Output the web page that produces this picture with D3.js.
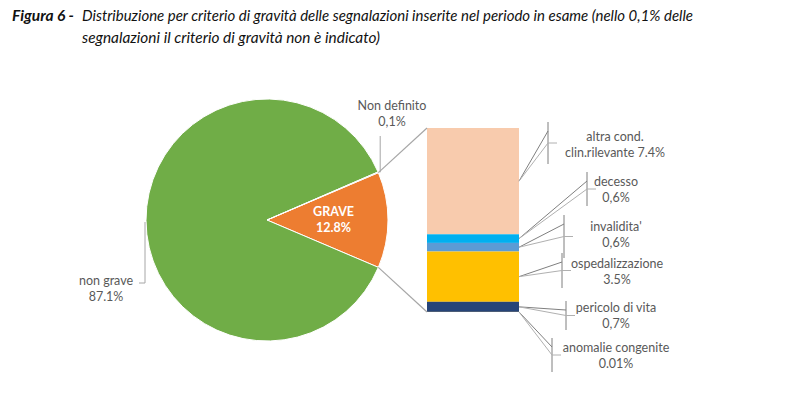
<!DOCTYPE html>
<html>
<head>
<meta charset="utf-8">
<script src="https://cdn.jsdelivr.net/npm/d3@7"></script>
<style>
  body { margin: 0; background: #fff; }
  svg { display: block; }
  text { font-family: Lato, "Open Sans", sans-serif; }
  .lbl { font-size: 12.5px; fill: #595959; }
  .title { font-size: 15px; font-style: italic; fill: #111; }
</style>
</head>
<body>
<svg id="chart" width="800" height="399"></svg>
<script>
const pieLabels = ['GRAVE', 'non grave', 'Non definito']
const pieValues = [12.8, 87.1, 0.1]
const pieText = ['12.8%', '87.1%', '0,1%']
const pieColors = ['#ED7D31', '#70AD47', '#A5A5A5']

const barLabels = [['altra cond.', 'clin.rilevante 7.4%'], ['decesso', '0,6%'], ["invalidita'", '0,6%'],
  ['ospedalizzazione', '3.5%'], ['pericolo di vita', '0,7%'], ['anomalie congenite', '0.01%']]
const barValues = [7.4, 0.6, 0.6, 3.5, 0.7, 0.01]
const barColors = ['#F8CBAD', '#00B0F0', '#5B9BD5', '#FFC000', '#264478', '#7F6000']

const svg = d3.select('#chart')

// title
svg.append('text').attr('class', 'title').attr('x', 12).attr('y', 21)
  .attr('font-weight', 'bold').attr('textLength', 62).attr('lengthAdjust', 'spacingAndGlyphs')
  .text('Figura 6 -')
svg.append('text').attr('class', 'title').attr('x', 82).attr('y', 21)
  .attr('textLength', 611).attr('lengthAdjust', 'spacingAndGlyphs')
  .text('Distribuzione per criterio di gravità delle segnalazioni inserite nel periodo in esame (nello 0,1% delle')
svg.append('text').attr('class', 'title').attr('x', 82).attr('y', 43)
  .attr('textLength', 298).attr('lengthAdjust', 'spacingAndGlyphs')
  .text('segnalazioni il criterio di gravità non è indicato)')

// pie
const cx = 267, cy = 220, r = 121
const half = Math.PI * pieValues[0] / d3.sum(pieValues)
const pie = d3.pie().sort(null).startAngle(Math.PI / 2 - half).endAngle(Math.PI * 2.5 - half)
const arcs = pie(pieValues)
const arc = d3.arc().innerRadius(0).outerRadius(r)
const pt = (a, rad) => [cx + rad * Math.sin(a), cy - rad * Math.cos(a)]

const pieG = svg.append('g').attr('transform', `translate(${cx},${cy})`)
pieG.selectAll('path').data(arcs).enter().append('path')
  .attr('d', arc)
  .attr('fill', (d, i) => pieColors[i])
  .attr('stroke', '#fff')
  .attr('stroke-width', 1)

const c = d3.arc().innerRadius(0).outerRadius(r * 1.1).centroid(arcs[0])
pieG.append('text').attr('x', c[0]).attr('y', c[1] - 4).attr('text-anchor', 'middle')
  .attr('fill', '#fff').attr('font-weight', 'bold').attr('font-size', 12.5).text(pieLabels[0])
pieG.append('text').attr('x', c[0]).attr('y', c[1] + 12).attr('text-anchor', 'middle')
  .attr('fill', '#fff').attr('font-weight', 'bold').attr('font-size', 12.5).text(pieText[0])

// bar of pie
const bx0 = 427, bx1 = 519
const y = d3.scaleLinear().domain([0, d3.sum(barValues)]).range([128, 312])
const cum = d3.cumsum(barValues)
const segs = barValues.map((v, i) => ({ y0: i ? cum[i - 1] : 0, y1: cum[i] }))

svg.append('g').selectAll('rect').data(segs).enter().append('rect')
  .attr('x', bx0).attr('width', bx1 - bx0)
  .attr('y', d => y(d.y0))
  .attr('height', d => Math.max(0, y(d.y1) - y(d.y0)))
  .attr('fill', (d, i) => barColors[i])

// connector lines pie -> bar
const lineCol = '#A6A6A6'
const pa = pt(arcs[0].startAngle, r), pb = pt(arcs[0].endAngle, r)
svg.append('line').attr('x1', pa[0]).attr('y1', pa[1]).attr('x2', bx0).attr('y2', y(0))
  .attr('stroke', lineCol).attr('stroke-width', 1.2)
svg.append('line').attr('x1', pb[0]).attr('y1', pb[1]).attr('x2', bx0).attr('y2', y(d3.sum(barValues)))
  .attr('stroke', lineCol).attr('stroke-width', 1.2)

// pie labels
const nd = pt((arcs[2].startAngle + arcs[2].endAngle) / 2, r)
svg.append('path').attr('d', `M${nd[0] + 2},${nd[1]}V136`).attr('stroke', lineCol).attr('fill', 'none')
svg.append('text').attr('class', 'lbl').attr('x', 392).attr('y', 110).attr('text-anchor', 'middle').text(pieLabels[2])
svg.append('text').attr('class', 'lbl').attr('x', 392).attr('y', 126).attr('text-anchor', 'middle').text(pieText[2])

const ng = pt(Math.PI * 1.5, r)
svg.append('path').attr('d', `M${ng[0] - 1},${ng[1] + 2}V283H139`).attr('stroke', lineCol).attr('fill', 'none')
svg.append('text').attr('class', 'lbl').attr('x', 106).attr('y', 285).attr('text-anchor', 'middle').text(pieLabels[1])
svg.append('text').attr('class', 'lbl').attr('x', 106).attr('y', 301).attr('text-anchor', 'middle').text(pieText[1])

// bar labels with Excel-style leader brackets
const layout = [
  { tx: 615, ty: 137, lx: 548, ly0: 122, ly1: 164 },
  { tx: 616, ty: 182, lx: 587, ly0: 172, ly1: 206 },
  { tx: 616, ty: 227, lx: 564, ly0: 215, ly1: 258 },
  { tx: 617, ty: 264, lx: 562, ly0: 253, ly1: 288 },
  { tx: 616, ty: 308, lx: 566, ly0: 301, ly1: 330 },
  { tx: 616, ty: 348, lx: 552, ly0: 338, ly1: 372 }
]
const labG = svg.append('g')
segs.forEach((d, i) => {
  const L = layout[i]
  const ay = (y(d.y0) + y(d.y1)) / 2
  const mid = (L.ly0 + L.ly1) / 2
  labG.append('path').attr('d', `M${L.lx},${L.ly0}V${L.ly1}`).attr('stroke', '#7F7F7F').attr('fill', 'none')
  labG.append('path').attr('d', `M${bx1},${ay}L${L.lx},${L.ly0 + 9}`).attr('stroke', '#7F7F7F').attr('fill', 'none')
  labG.append('path').attr('d', `M${bx1},${ay}L${L.lx},${mid}H${L.lx + 9}`).attr('stroke', '#B0B0B0').attr('fill', 'none')
  barLabels[i].forEach((t, j) => {
    labG.append('text').attr('class', 'lbl').attr('x', L.tx).attr('y', L.ty + 4 + j * 16)
      .attr('text-anchor', 'middle').text(t)
  })
})
</script>
</body>
</html>
